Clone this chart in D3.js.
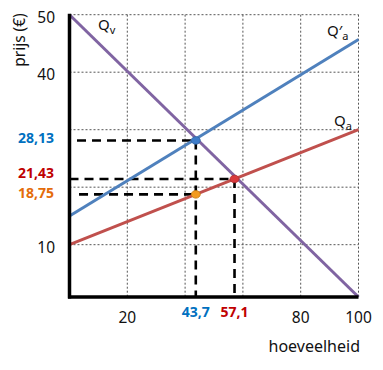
<!DOCTYPE html>
<html lang="nl">
<head>
    <meta charset="UTF-8">
    <title>Vraag en aanbod</title>
    <script src="https://d3js.org/d3.v7.min.js"></script>
    <style>
        body {
            margin: 0;
            background: #fff;
            font-family: "Noto Sans", "Open Sans", sans-serif;
        }
        .grid line {
            stroke: #555;
            stroke-width: 1;
            stroke-dasharray: 2,2;
        }
        .tick-label {
            font-size: 15.5px;
            fill: #111;
        }
        .help {
            stroke: #000;
            stroke-width: 2.6;
            stroke-dasharray: 9,6;
            fill: none;
        }
    </style>
</head>
<body>
    <svg width="383" height="370"></svg>

    <script>
        // hoeveelheid (Q) at the two ends of each line
        const qEnds = [0, 100];
        const qvPrice = [50, 0.9];        // vraag Qv
        const qaPrice = [10, 30];         // aanbod Qa
        const qaPrimePrice = [15, 45.7];  // aanbod Q'a

        const xTicks = [20, 80, 100];
        const yTicks = [10, 40, 50];
        const xGrid = [20, 40, 60, 80, 100];
        const yGrid = [10, 20, 30, 40, 50];

        // snijpunten
        const pointQ = [43.7, 57.1, 43.7];
        const pointP = [28.13, 21.43, 18.75];
        const qLabels = ["43,7", "57,1", null];
        const pLabels = ["28,13", "21,43", "18,75"];

        // styling per snijpunt
        const pointColors = ["#3d7cc9", "#d9393c", "#f39a1e"];
        const labelColors = ["#0070c0", "#c00000", "#e46c0a"];
        const hStart = [2.6, 0, 3.3];      // where the horizontal dash begins
        const labelDy = [3, -1, 4];

        const points = pointQ.map((q, i) => ({
            q: q, p: pointP[i], qLabel: qLabels[i], pLabel: pLabels[i],
            color: pointColors[i], labelColor: labelColors[i], hStart: hStart[i], dy: labelDy[i]
        }));

        const svg = d3.select("svg");
        const x = d3.scaleLinear().domain([0, 100]).range([69.5, 358.5]);
        const y = d3.scaleLinear().domain([0.9, 50]).range([297, 14.7]);

        // rooster
        const grid = svg.append("g").attr("class", "grid");
        grid.selectAll(".gx").data(xGrid).enter().append("line")
            .attr("x1", d => x(d)).attr("x2", d => x(d))
            .attr("y1", y(50)).attr("y2", y(0.9));
        grid.selectAll(".gy").data(yGrid).enter().append("line")
            .attr("x1", x(0)).attr("x2", x(100))
            .attr("y1", d => y(d)).attr("y2", d => y(d));

        // hulplijnen
        points.forEach(pt => {
            svg.append("line").attr("class", "help")
                .attr("x1", x(pt.hStart)).attr("x2", x(pt.q))
                .attr("y1", y(pt.p)).attr("y2", y(pt.p));
        });
        // one vertical per quantity, from the highest point down
        d3.rollups(points, v => d3.max(v, d => d.p), d => d.q).forEach(([q, p]) => {
            svg.append("line").attr("class", "help")
                .attr("x1", x(q)).attr("x2", x(q))
                .attr("y1", y(p)).attr("y2", y(0.9));
        });

        // lijnen
        const lineData = [
            {price: qaPrice, color: "#c0504d"},
            {price: qaPrimePrice, color: "#4f81bd"},
            {price: qvPrice, color: "#8064a2"}
        ];
        const line = d3.line().x(d => x(d[0])).y(d => y(d[1]));
        svg.selectAll(".curve").data(lineData).enter().append("path")
            .attr("d", d => line(qEnds.map((q, i) => [q, d.price[i]])))
            .attr("fill", "none")
            .attr("stroke", d => d.color)
            .attr("stroke-width", 3);

        // punten
        svg.selectAll(".pt").data(points).enter().append("ellipse")
            .attr("cx", d => x(d.q)).attr("cy", d => y(d.p))
            .attr("rx", 4.5).attr("ry", 3.8)
            .attr("fill", d => d.color)
            .attr("stroke", d => d3.color(d.color).darker(0.6))
            .attr("stroke-width", 0.8);

        // assen
        svg.append("line")
            .attr("x1", x(0)).attr("x2", x(0))
            .attr("y1", y(50) - 1).attr("y2", y(0.9) + 1.5)
            .attr("stroke", "#000").attr("stroke-width", 3.5);
        svg.append("line")
            .attr("x1", x(0) - 1.5).attr("x2", x(100))
            .attr("y1", y(0.9)).attr("y2", y(0.9))
            .attr("stroke", "#000").attr("stroke-width", 3.5);

        // as-labels
        svg.selectAll(".xt").data(xTicks).enter().append("text")
            .attr("class", "tick-label")
            .attr("x", d => x(d)).attr("y", 323)
            .attr("text-anchor", "middle")
            .text(d => d);
        svg.selectAll(".yt").data(yTicks).enter().append("text")
            .attr("class", "tick-label")
            .attr("x", 55).attr("y", d => y(d) + 8)
            .attr("text-anchor", "end")
            .text(d => d);

        svg.append("text").attr("class", "tick-label")
            .attr("x", 360).attr("y", 352)
            .attr("text-anchor", "end")
            .attr("font-size", 16)
            .style("font-size", "16px")
            .text("hoeveelheid");
        svg.append("text").attr("class", "tick-label")
            .attr("transform", "translate(25,40) rotate(-90)")
            .attr("text-anchor", "middle")
            .text("prijs (€)");

        // gekleurde waarden
        svg.selectAll(".pl").data(points).enter().append("text")
            .attr("x", 54).attr("y", d => y(d.p) + d.dy)
            .attr("text-anchor", "end")
            .attr("font-size", 14).attr("font-weight", "bold")
            .attr("fill", d => d.labelColor)
            .text(d => d.pLabel);
        svg.selectAll(".ql").data(points.filter(d => d.qLabel)).enter().append("text")
            .attr("x", d => x(d.q)).attr("y", 317)
            .attr("text-anchor", "middle")
            .attr("font-size", 14).attr("font-weight", "bold")
            .attr("fill", d => d.labelColor)
            .text(d => d.qLabel);

        // lijnnamen
        const names = [
            {x: 98, y: 30, main: "Q", sub: "v"},
            {x: 327, y: 36, main: "Q\u2032", sub: "a"},
            {x: 334, y: 126, main: "Q", sub: "a"}
        ];
        names.forEach(n => {
            const t = svg.append("text").attr("x", n.x).attr("y", n.y)
                .attr("font-size", 15).attr("fill", "#111");
            t.append("tspan").text(n.main);
            t.append("tspan").attr("dy", 4).attr("font-size", 11).text(n.sub);
        });
    </script>
</body>
</html>
